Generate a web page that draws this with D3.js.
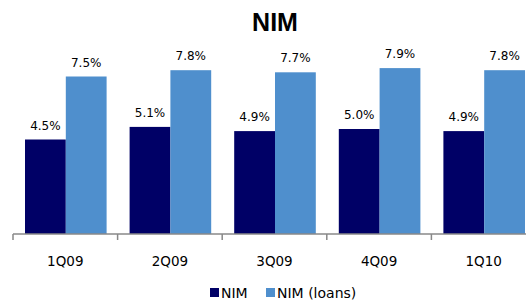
<!DOCTYPE html>
<html><head><meta charset="utf-8">
<script src="https://cdn.jsdelivr.net/npm/d3@7/dist/d3.min.js"></script>
<style>body{margin:0;background:#fff;}svg{display:block;}</style>
</head><body>
<svg id="c" width="526" height="300"></svg>
<script>
const categories = ["1Q09","2Q09","3Q09","4Q09","1Q10"];
const seriesNames = ["NIM","NIM (loans)"];
const nim = [4.5,5.1,4.9,5.0,4.9];
const nimLoans = [7.5,7.8,7.7,7.9,7.8];
const colors = ["#000066","#4F8FCD"];
const title = "NIM";

const svg = d3.select("#c");
const font = "'DejaVu Sans', sans-serif";
const x = d3.scaleBand().domain(categories).range([13, 536]).paddingInner(0).paddingOuter(0);
const x1 = d3.scaleBand().domain(seriesNames).range([12, x.bandwidth()-11]).padding(0);
const y = d3.scaleLinear().domain([0, 10]).range([234, 24]);

const data = categories.map((c,i)=>({cat:c, vals:[nim[i], nimLoans[i]]}));

svg.append("text").attr("x",275).attr("y",31).attr("text-anchor","middle")
  .attr("font-family","'Liberation Sans', Arial, sans-serif").attr("font-weight","bold")
  .attr("font-size",25).attr("fill","#000").text(title);

const g = svg.selectAll("g.grp").data(data).join("g").attr("class","grp")
  .attr("transform",d=>`translate(${x(d.cat)},0)`);
g.selectAll("rect").data(d=>d.vals.map((v,j)=>({s:seriesNames[j],v,j}))).join("rect")
  .attr("x",d=>x1(d.s)).attr("width",x1.bandwidth())
  .attr("y",d=>y(d.v)).attr("height",d=>y(0)-y(d.v)).attr("fill",d=>colors[d.j]);
g.selectAll("text.lbl").data(d=>d.vals.map((v,j)=>({s:seriesNames[j],v,j}))).join("text")
  .attr("class","lbl").attr("x",d=>x1(d.s)+x1.bandwidth()/2).attr("y",d=>y(d.v)-10)
  .attr("text-anchor","middle").attr("font-family",font).attr("font-size",12).attr("fill","#000")
  .text(d=>d.v.toFixed(1)+"%");

const axis = d3.axisBottom(x).tickSize(0).tickPadding(0);
const ax = svg.append("g").attr("transform","translate(0,234)").call(axis);
ax.select(".domain").attr("stroke","#888").attr("stroke-width",1.5).attr("d","M13,0H526");
ax.selectAll(".tick text").attr("y",32).attr("dy",0).attr("font-family",font).attr("font-size",13.5).attr("fill","#000");
// boundary ticks between bands
const bounds = categories.map(c=>x(c));
ax.selectAll("line.bt").data(bounds).join("line").attr("class","bt")
  .attr("x1",d=>d).attr("x2",d=>d).attr("y1",0).attr("y2",6).attr("stroke","#888").attr("stroke-width",1.5);

// legend
const leg = svg.append("g");
const legX = [210, 266];
seriesNames.forEach((s,i)=>{
  leg.append("rect").attr("x",legX[i]).attr("y",288).attr("width",9).attr("height",9).attr("fill",colors[i]);
  leg.append("text").attr("x",legX[i]+11).attr("y",297.5).attr("font-family",font).attr("font-size",14).attr("fill","#000").text(s);
});
</script>
</body></html>
